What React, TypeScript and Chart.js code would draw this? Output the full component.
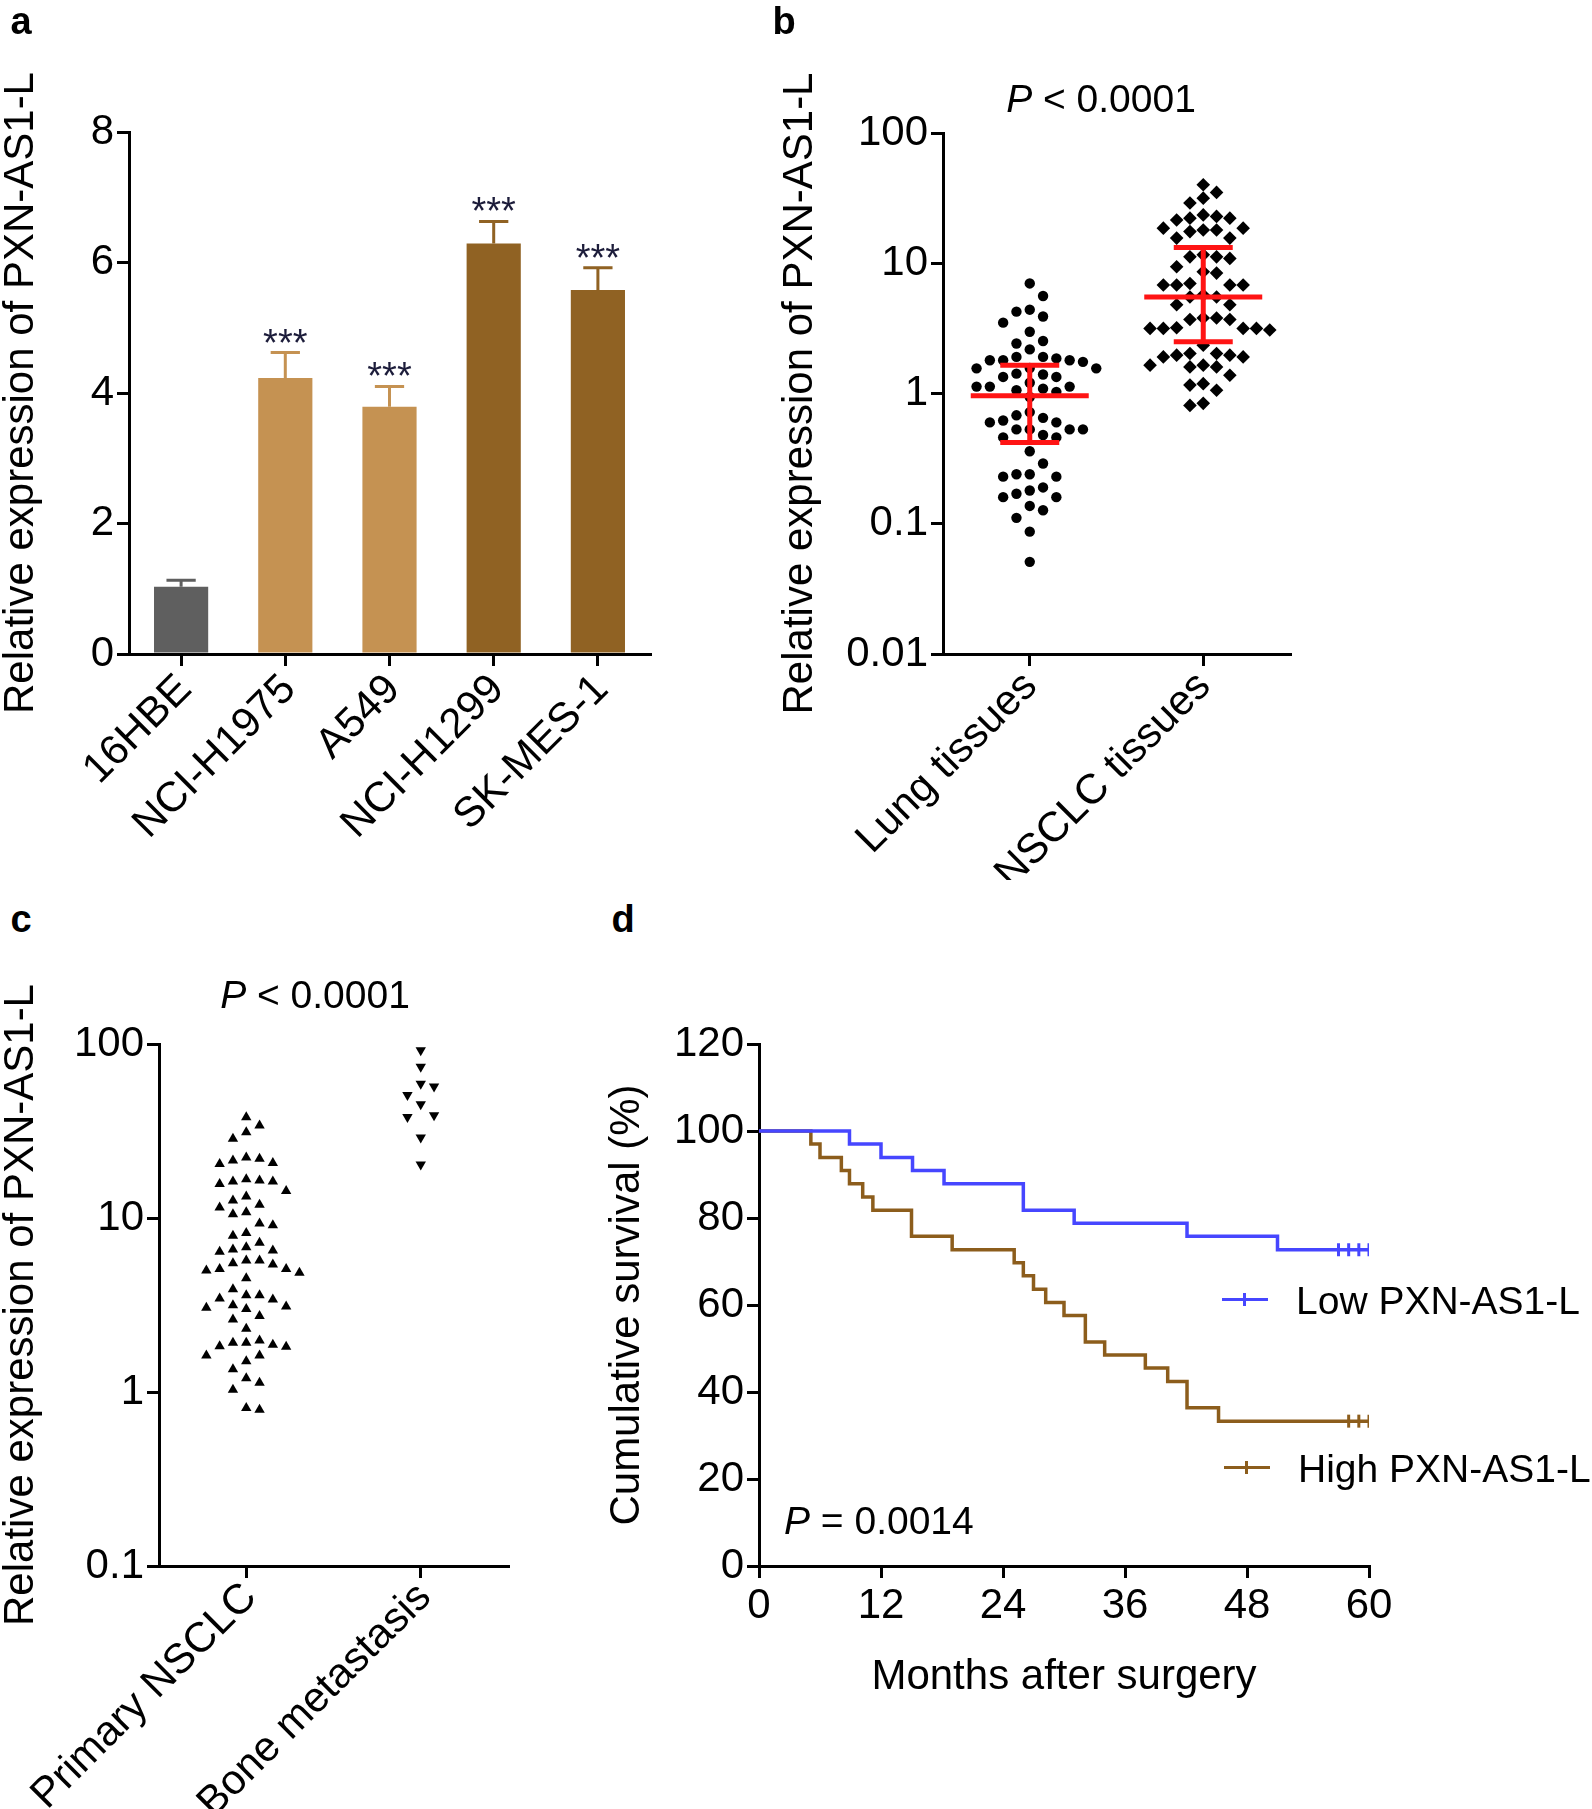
import React, { useEffect, useRef } from 'react';
import { Chart, registerables } from 'chart.js';

Chart.register(...registerables);

const FONT = '"Liberation Sans", Arial, Helvetica, sans-serif';

// ---------- Panel a : bar chart ----------
const cellLines = ['16HBE', 'NCI-H1975', 'A549', 'NCI-H1299', 'SK-MES-1'];
const cellMeans = [1.03, 4.23, 3.79, 6.29, 5.58];
const cellErrors = [0.1, 0.39, 0.31, 0.34, 0.34];
const cellStars = ['', '***', '***', '***', '***'];
const barColors = ['#5f5f5f', '#c59252', '#c59252', '#906223', '#906223'];
const barTicks = [0, 2, 4, 6, 8];

// ---------- Panel b : lung vs NSCLC tissues ----------
const tissueGroups = ['Lung tissues', 'NSCLC tissues'];
const lungValues = [
  7.0, 5.6, 4.4, 3.9, 4.25, 3.5, 2.98, 2.53, 2.18, 2.42,
  1.91, 1.91, 1.8, 1.8, 1.8, 1.75, 1.86,
  1.56, 1.56, 1.42, 1.34, 1.34, 1.4, 1.57,
  1.13, 1.13, 1.13, 1.06, 0.94, 1.03, 1.09, 1.21,
  0.68, 0.62, 0.6, 0.6, 0.65, 0.72,
  0.53, 0.53, 0.53, 0.53, 0.46, 0.46, 0.48,
  0.36, 0.29, 0.24, 0.24, 0.23, 0.23,
  0.18, 0.16, 0.16, 0.17, 0.19,
  0.137, 0.127, 0.111, 0.087, 0.051,
];
const nsclcValues = [
  40.1, 31.6, 35.0, 29.0, 23.5, 22.2, 21.5, 22.2, 22.9,
  17.5, 18.0, 18.0, 18.6, 18.6, 15.6, 15.6,
  11.6, 10.9, 11.2, 11.2, 8.6, 8.4, 9.4,
  7.0, 6.8, 6.8, 6.8, 6.8, 5.5, 5.5, 5.7, 4.8, 4.8,
  3.8, 3.8, 3.7, 3.7, 3.16, 3.16, 3.16, 3.16, 3.07, 3.2, 2.35,
  2.03, 2.03, 1.97, 1.97, 1.91, 1.91, 1.6, 1.6, 1.65, 1.65,
  1.38, 1.16, 1.19, 1.06, 0.81, 0.84,
];
const tissueMean = [0.96, 5.5];
const tissueSdLow = [0.42, 2.5];
const tissueSdHigh = [1.65, 13.2];
const logTicksB = [0.01, 0.1, 1, 10, 100];

// ---------- Panel c : primary vs bone metastasis ----------
const metaGroups = ['Primary NSCLC', 'Bone metastasis'];
const primaryValues = [
  37.9, 34.0, 31.1, 28.5,
  22.3, 21.4, 20.7, 20.4, 21.9,
  16.2, 16.4, 15.7, 16.2, 16.7, 14.3, 12.6, 13.3,
  11.9, 10.8, 10.5, 11.5, 9.1, 9.3, 7.9, 8.2, 7.2,
  6.8, 6.5, 6.4, 6.6,
  5.7, 5.4, 5.1, 4.85, 5.1, 5.0, 5.5, 5.7, 4.5,
  3.9, 3.6, 3.4, 3.15, 3.1, 3.45, 3.6, 3.05, 3.0, 2.73, 2.61, 2.31,
  1.98, 1.92, 1.82, 1.83, 1.87, 1.92, 1.62, 1.62, 1.5, 1.35,
  1.13, 1.2, 1.03, 0.79, 0.81,
];
const boneValues = [92, 74, 59, 57, 51, 45, 39, 38, 29, 20.3];
const logTicksC = [0.1, 1, 10, 100];

// ---------- Panel d : Kaplan-Meier ----------
const lowTimes = [0, 8.9, 12.0, 15.1, 18.2, 26.0, 31.0, 42.1, 51.0, 60];
const lowSurvival = [100, 97.0, 93.9, 90.9, 87.9, 81.8, 78.8, 75.8, 72.7, 72.7];
const lowCensored = [57, 58, 59, 60];
const highTimes = [0, 5.1, 6.0, 8.1, 8.9, 10.2, 11.2, 15.0, 19.0, 25.1, 26.0, 27.0, 28.2, 30.0, 32.1, 34.0, 38.0, 40.2, 42.1, 45.2, 60];
const highSurvival = [100, 97.0, 93.9, 90.9, 87.9, 84.8, 81.8, 75.8, 72.7, 69.7, 66.7, 63.6, 60.6, 57.6, 51.5, 48.5, 45.5, 42.4, 36.4, 33.3, 33.3];
const highCensored = [58, 59, 60];
const monthTicks = [0, 12, 24, 36, 48, 60];
const survivalTicks = [0, 20, 40, 60, 80, 100, 120];

const LOW_COLOR = '#4646ff';
const HIGH_COLOR = '#8c5d1c';

// ---------- helpers ----------
const tickFont = { family: FONT, size: 42, lineHeight: 1.2 };
const axisStyle = () => ({
  grid: {
    display: true,
    drawOnChartArea: false,
    drawTicks: true,
    tickLength: 12,
    tickWidth: 3,
    tickColor: '#000',
    color: '#000',
    lineWidth: 3,
  },
  border: { display: true, width: 3, color: '#000' },
});
const yTitle = (text: string) => ({
  display: true,
  text,
  color: '#000',
  font: { family: FONT, size: 42, lineHeight: 1 },
  padding: 0,
});

function survivalAt(times: number[], surv: number[], t: number) {
  let s = surv[0];
  for (let i = 0; i < times.length; i++) if (times[i] <= t) s = surv[i];
  return s;
}

function swarmPoints(chart: any, values: number[], center: number, stepPx: number) {
  const xs = chart.scales.x;
  const ys = chart.scales.y;
  const pxPerUnit = xs.getPixelForValue(center + 1) - xs.getPixelForValue(center);
  const order = values.map((_, i) => i).sort((a, b) => values[b] - values[a]);
  const placed: { col: number; py: number }[] = [];
  const res: { x: number; y: number }[] = new Array(values.length);
  let flip = 1;
  for (const i of order) {
    const py = ys.getPixelForValue(values[i]);
    const free = (c: number) => !placed.some((p) => p.col === c && Math.abs(p.py - py) < stepPx);
    let col = 0;
    if (!free(0)) {
      for (let k = 1; k < 30; k++) {
        if (free(k * flip)) { col = k * flip; break; }
        if (free(-k * flip)) { col = -k * flip; break; }
      }
      flip = -flip;
    }
    placed.push({ col, py });
    res[i] = { x: center + (col * stepPx) / pxPerUnit, y: values[i] };
  }
  return res;
}

const errorBarPlugin = {
  id: 'errorBars',
  afterDatasetsDraw(chart: any) {
    const { ctx } = chart;
    const y = chart.scales.y;
    const meta = chart.getDatasetMeta(0);
    ctx.save();
    meta.data.forEach((bar: any, i: number) => {
      const base = y.getPixelForValue(cellMeans[i]);
      const top = y.getPixelForValue(cellMeans[i] + cellErrors[i]);
      const half = bar.width * 0.27;
      ctx.strokeStyle = barColors[i];
      ctx.lineWidth = 3;
      ctx.beginPath();
      ctx.moveTo(bar.x, base);
      ctx.lineTo(bar.x, top);
      ctx.moveTo(bar.x - half, top);
      ctx.lineTo(bar.x + half, top);
      ctx.stroke();
      if (cellStars[i]) {
        ctx.fillStyle = '#1c1c3a';
        ctx.font = `38px ${FONT}`;
        ctx.textAlign = 'center';
        ctx.textBaseline = 'alphabetic';
        ctx.fillText(cellStars[i], bar.x, top + 3);
      }
    });
    ctx.restore();
  },
};

const meanSdPlugin = {
  id: 'meanSd',
  afterDatasetsDraw(chart: any) {
    const { ctx } = chart;
    const x = chart.scales.x;
    const y = chart.scales.y;
    const unit = x.getPixelForValue(1) - x.getPixelForValue(0);
    ctx.save();
    ctx.strokeStyle = '#ff1414';
    ctx.lineWidth = 5;
    tissueMean.forEach((m, i) => {
      const cx = x.getPixelForValue(i);
      const my = y.getPixelForValue(m);
      const hi = y.getPixelForValue(tissueSdHigh[i]);
      const lo = y.getPixelForValue(tissueSdLow[i]);
      ctx.beginPath();
      ctx.moveTo(cx - unit * 0.34, my);
      ctx.lineTo(cx + unit * 0.34, my);
      ctx.moveTo(cx, hi);
      ctx.lineTo(cx, lo);
      ctx.moveTo(cx - unit * 0.17, hi);
      ctx.lineTo(cx + unit * 0.17, hi);
      ctx.moveTo(cx - unit * 0.17, lo);
      ctx.lineTo(cx + unit * 0.17, lo);
      ctx.stroke();
    });
    ctx.restore();
  },
};

function Txt(props: { x: number; y: number; children: any; style?: any; anchor?: 'center' | 'left' }) {
  const { x, y, children, style, anchor = 'center' } = props;
  return (
    <div
      style={{
        position: 'absolute',
        left: x,
        top: y,
        transform: anchor === 'center' ? 'translate(-50%, -50%)' : 'translateY(-50%)',
        whiteSpace: 'nowrap',
        lineHeight: 1,
        fontFamily: FONT,
        color: '#000',
        ...style,
      }}
    >
      {children}
    </div>
  );
}

export default function App() {
  const aRef = useRef<HTMLCanvasElement>(null);
  const bRef = useRef<HTMLCanvasElement>(null);
  const cRef = useRef<HTMLCanvasElement>(null);
  const dRef = useRef<HTMLCanvasElement>(null);

  useEffect(() => {
    const charts: Chart[] = [];

    // ----- a -----
    charts.push(
      new Chart(aRef.current!, {
        type: 'bar',
        data: {
          labels: cellLines,
          datasets: [
            {
              data: cellMeans,
              backgroundColor: barColors,
              borderWidth: 0,
              barPercentage: 0.52,
              categoryPercentage: 1,
            },
          ],
        },
        options: {
          responsive: false,
          animation: false,
          layout: { padding: { top: 132, right: 50, left: 0, bottom: 0 } },
          plugins: { legend: { display: false }, tooltip: { enabled: false } },
          scales: {
            x: {
              ...axisStyle(),
              z: 1,
              offset: true,
              grid: { ...axisStyle().grid, offset: false },
              ticks: {
                font: tickFont,
                color: '#000',
                minRotation: 45,
                maxRotation: 45,
                autoSkip: false,
                padding: -1,
                labelOffset: 4,
              },
              afterFit: (s: any) => { s.height = 226; },
            },
            y: {
              ...axisStyle(),
              z: 1,
              min: 0,
              max: 8,
              afterBuildTicks: (s: any) => { s.ticks = barTicks.map((v) => ({ value: v })); },
              ticks: { font: tickFont, color: '#000', padding: 3 },
              title: yTitle('Relative expression of PXN-AS1-L'),
              afterFit: (s: any) => { s.width = 129; },
            },
          },
        },
        plugins: [errorBarPlugin],
      } as any)
    );

    // ----- b -----
    const b = new Chart(bRef.current!, {
      type: 'scatter',
      data: {
        datasets: [
          {
            data: lungValues.map((v) => ({ x: 0, y: v })),
            pointStyle: 'circle',
            pointRadius: 5.2,
            backgroundColor: '#000',
            borderWidth: 0,
          },
          {
            data: nsclcValues.map((v) => ({ x: 1, y: v })),
            pointStyle: 'rectRot',
            pointRadius: 6.8,
            backgroundColor: '#000',
            borderWidth: 0,
          },
        ],
      },
      options: {
        responsive: false,
        animation: false,
        layout: { padding: { top: 133, right: 50, left: 0, bottom: 0 } },
        plugins: { legend: { display: false }, tooltip: { enabled: false } },
        scales: {
          x: {
            ...axisStyle(),
            type: 'linear',
            min: -0.5,
            max: 1.5,
            afterBuildTicks: (s: any) => { s.ticks = tissueGroups.map((_, i) => ({ value: i })); },
            ticks: {
              font: tickFont,
              color: '#000',
              minRotation: 45,
              maxRotation: 45,
              autoSkip: false,
              padding: -4,
              labelOffset: 1,
              callback: (v: any) => tissueGroups[Math.round(v)] ?? '',
            },
            afterFit: (s: any) => { s.height = 226; },
          },
          y: {
            ...axisStyle(),
            type: 'logarithmic',
            min: 0.01,
            max: 100,
            afterBuildTicks: (s: any) => { s.ticks = logTicksB.map((v) => ({ value: v })); },
            ticks: { font: tickFont, color: '#000', padding: 3, callback: (v: any) => String(v) },
            title: yTitle('Relative expression of PXN-AS1-L'),
            afterFit: (s: any) => { s.width = 164; },
          },
        },
      },
      plugins: [meanSdPlugin],
    } as any);
    (b.data.datasets[0] as any).data = swarmPoints(b, lungValues, 0, 13.3);
    (b.data.datasets[1] as any).data = swarmPoints(b, nsclcValues, 1, 13.3);
    b.update('none');
    charts.push(b);

    // ----- c -----
    const c = new Chart(cRef.current!, {
      type: 'scatter',
      data: {
        datasets: [
          {
            data: primaryValues.map((v) => ({ x: 0, y: v })),
            pointStyle: 'triangle',
            pointRadius: 6,
            backgroundColor: '#000',
            borderWidth: 0,
          },
          {
            data: boneValues.map((v) => ({ x: 1, y: v })),
            pointStyle: 'triangle',
            rotation: 180,
            pointRadius: 6,
            backgroundColor: '#000',
            borderWidth: 0,
          },
        ],
      },
      options: {
        responsive: false,
        animation: false,
        layout: { padding: { top: 84, right: 52, left: 0, bottom: 0 } },
        plugins: { legend: { display: false }, tooltip: { enabled: false } },
        scales: {
          x: {
            ...axisStyle(),
            type: 'linear',
            min: -0.5,
            max: 1.5,
            afterBuildTicks: (s: any) => { s.ticks = metaGroups.map((_, i) => ({ value: i })); },
            ticks: {
              font: tickFont,
              color: '#000',
              minRotation: 45,
              maxRotation: 45,
              autoSkip: false,
              padding: -5,
              labelOffset: 4,
              callback: (v: any) => metaGroups[Math.round(v)] ?? '',
            },
            afterFit: (s: any) => { s.height = 243; },
          },
          y: {
            ...axisStyle(),
            type: 'logarithmic',
            min: 0.1,
            max: 100,
            afterBuildTicks: (s: any) => { s.ticks = logTicksC.map((v) => ({ value: v })); },
            ticks: { font: tickFont, color: '#000', padding: 3, callback: (v: any) => String(v) },
            title: yTitle('Relative expression of PXN-AS1-L'),
            afterFit: (s: any) => { s.width = 159; },
          },
        },
      },
    } as any);
    (c.data.datasets[0] as any).data = swarmPoints(c, primaryValues, 0, 13.3);
    (c.data.datasets[1] as any).data = swarmPoints(c, boneValues, 1, 13.3);
    c.update('none');
    charts.push(c);

    // ----- d -----
    charts.push(
      new Chart(dRef.current!, {
        type: 'scatter',
        data: {
          datasets: [
            {
              data: lowTimes.map((t, i) => ({ x: t, y: lowSurvival[i] })),
              showLine: true,
              stepped: 'before',
              borderColor: LOW_COLOR,
              borderWidth: 3.5,
              pointRadius: 0,
            },
            {
              data: highTimes.map((t, i) => ({ x: t, y: highSurvival[i] })),
              showLine: true,
              stepped: 'before',
              borderColor: HIGH_COLOR,
              borderWidth: 3.5,
              pointRadius: 0,
            },
            {
              data: lowCensored.map((t) => ({ x: t, y: survivalAt(lowTimes, lowSurvival, t) })),
              showLine: false,
              pointStyle: 'line',
              rotation: 90,
              pointRadius: 6.5,
              borderColor: LOW_COLOR,
              pointBorderColor: LOW_COLOR,
              pointBorderWidth: 3,
            },
            {
              data: highCensored.map((t) => ({ x: t, y: survivalAt(highTimes, highSurvival, t) })),
              showLine: false,
              pointStyle: 'line',
              rotation: 90,
              pointRadius: 6.5,
              borderColor: HIGH_COLOR,
              pointBorderColor: HIGH_COLOR,
              pointBorderWidth: 3,
            },
          ],
        },
        options: {
          responsive: false,
          animation: false,
          layout: { padding: { top: 44, right: 31, left: 0, bottom: 0 } },
          plugins: { legend: { display: false }, tooltip: { enabled: false } },
          scales: {
            x: {
              ...axisStyle(),
              type: 'linear',
              min: 0,
              max: 60,
              afterBuildTicks: (s: any) => { s.ticks = monthTicks.map((v) => ({ value: v })); },
              ticks: { font: tickFont, color: '#000', padding: 3, maxRotation: 0, autoSkip: false },
              title: {
                display: true,
                text: 'Months after surgery',
                color: '#000',
                font: { family: FONT, size: 42, lineHeight: 1.2 },
                padding: 0,
              },
              afterFit: (s: any) => { s.height = 137; },
            },
            y: {
              ...axisStyle(),
              min: 0,
              max: 120,
              afterBuildTicks: (s: any) => { s.ticks = survivalTicks.map((v) => ({ value: v })); },
              ticks: { font: tickFont, color: '#000', padding: 3 },
              title: yTitle('Cumulative survival (%)'),
              afterFit: (s: any) => { s.width = 153; },
            },
          },
        },
      } as any)
    );

    return () => charts.forEach((ch) => ch.destroy());
  }, []);

  const letter = { fontWeight: 'bold', fontSize: 38 };
  const pStyle = { fontSize: 39 };

  return (
    <div style={{ position: 'absolute', left: 0, top: 0, width: 1592, height: 1809, background: '#fff', overflow: 'hidden' }}>
      <canvas ref={aRef} width={700} height={880} style={{ position: 'absolute', left: 0, top: 0, width: 700, height: 880 }} />
      <canvas ref={bRef} width={561} height={880} style={{ position: 'absolute', left: 779, top: 0, width: 561, height: 880 }} />
      <canvas ref={cRef} width={560} height={849} style={{ position: 'absolute', left: 0, top: 960, width: 560, height: 849 }} />
      <canvas ref={dRef} width={794} height={703} style={{ position: 'absolute', left: 606, top: 1000, width: 794, height: 703 }} />

      <Txt x={21} y={21} style={letter}>a</Txt>
      <Txt x={784} y={21} style={letter}>b</Txt>
      <Txt x={21} y={919} style={letter}>c</Txt>
      <Txt x={623} y={919} style={letter}>d</Txt>

      <Txt x={1101} y={98} style={pStyle}>
        <span style={{ fontStyle: 'italic' }}>P</span> &lt; 0.0001
      </Txt>
      <Txt x={315} y={994} style={pStyle}>
        <span style={{ fontStyle: 'italic' }}>P</span> &lt; 0.0001
      </Txt>
      <Txt x={784} y={1520} anchor="left" style={pStyle}>
        <span style={{ fontStyle: 'italic' }}>P</span> = 0.0014
      </Txt>

      {/* legend, panel d */}
      <div style={{ position: 'absolute', left: 1222, top: 1298, width: 46, height: 3, background: LOW_COLOR }} />
      <div style={{ position: 'absolute', left: 1243, top: 1293, width: 3, height: 13, background: LOW_COLOR }} />
      <Txt x={1296} y={1300} anchor="left" style={pStyle}>Low PXN-AS1-L</Txt>
      <div style={{ position: 'absolute', left: 1224, top: 1466, width: 46, height: 3, background: HIGH_COLOR }} />
      <div style={{ position: 'absolute', left: 1245, top: 1461, width: 3, height: 13, background: HIGH_COLOR }} />
      <Txt x={1298} y={1468} anchor="left" style={pStyle}>High PXN-AS1-L</Txt>
    </div>
  );
}
